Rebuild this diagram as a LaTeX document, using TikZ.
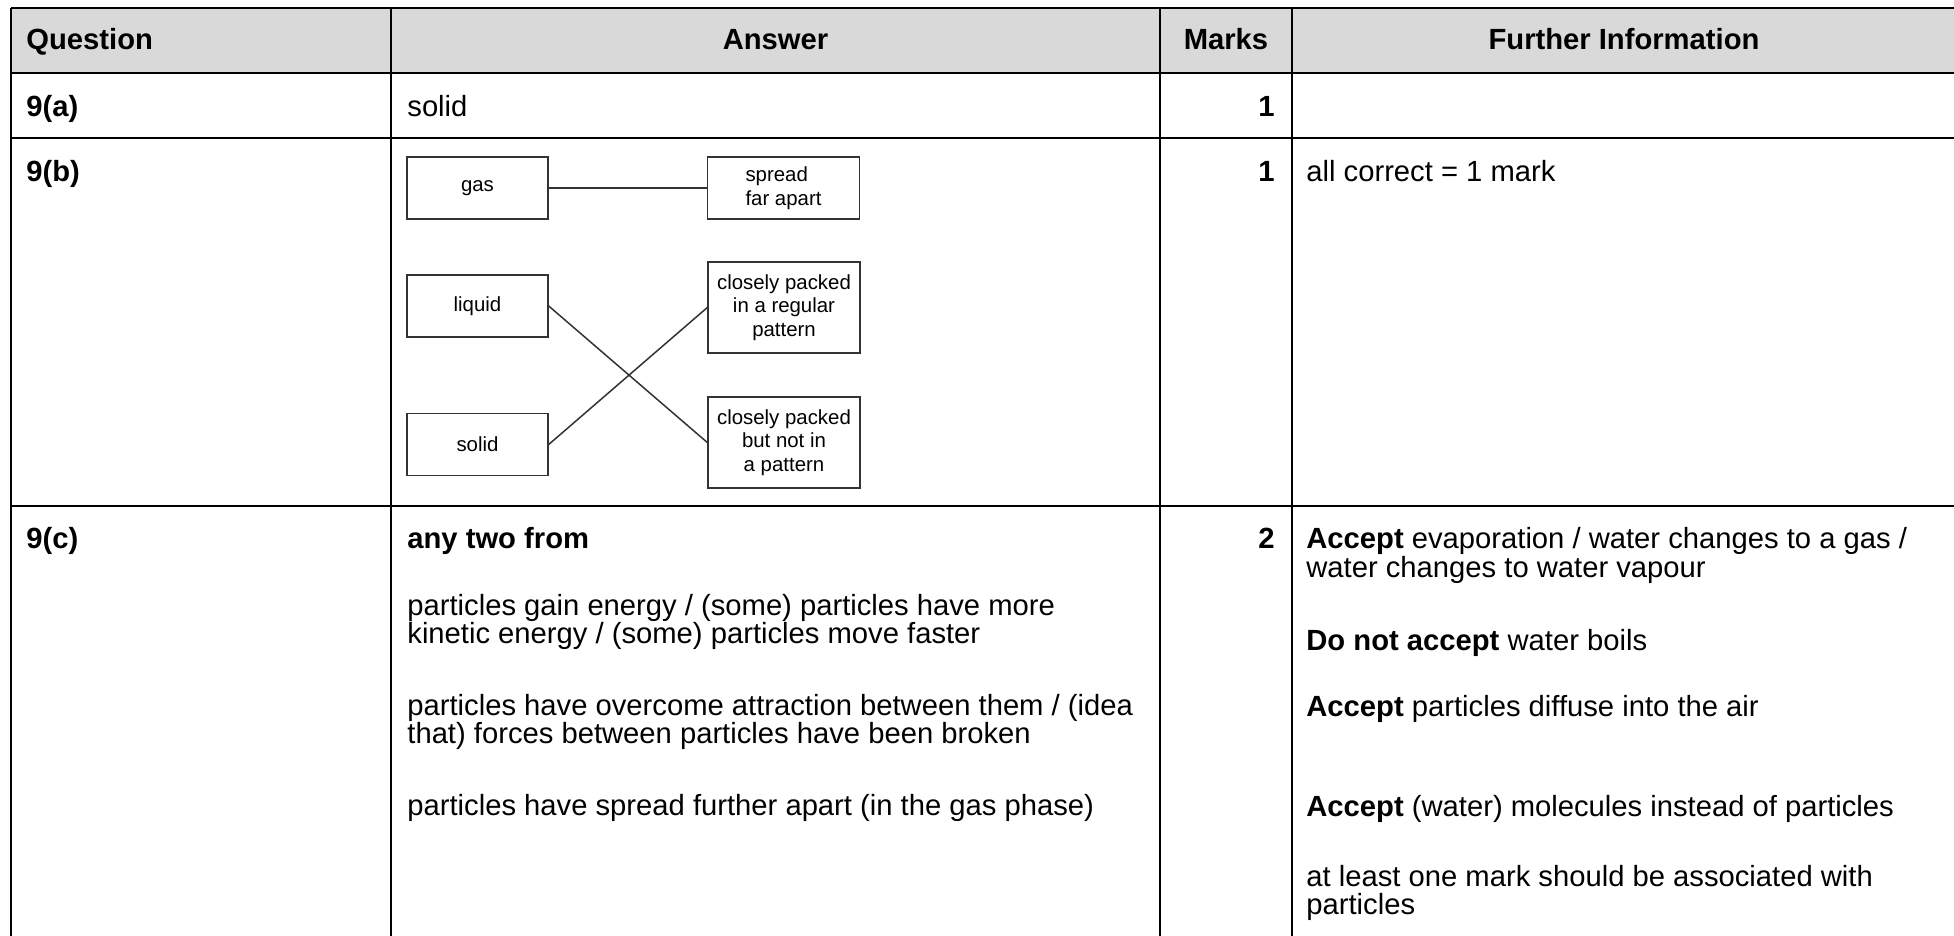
\documentclass[tikz,border=0pt]{standalone}
\usepackage{fontspec}
\setmainfont{Liberation Sans}
\usepackage{tikz}
\definecolor{headgray}{HTML}{D9D9D9}
\definecolor{boxline}{HTML}{333333}
\tikzset{
  rule/.style={line width=1pt,black},
  txt/.style={anchor=base west,inner sep=0pt,font=\fontsize{14.6}{15.5}\selectfont},
  headtxt/.style={inner sep=0pt,font=\fontsize{14.6}{15.5}\selectfont\bfseries},
  num/.style={anchor=base east,inner sep=0pt,font=\fontsize{14.6}{15.5}\selectfont\bfseries},
  matchbox/.style={draw=boxline,line width=0.7pt,inner sep=0pt,align=center,
    font=\fontsize{10.2}{11.8}\selectfont,minimum width=70.5pt,minimum height=31pt},
  link/.style={line width=0.75pt,boxline}
}

\begin{document}
\begin{tikzpicture}[x=0.5pt,y=-0.5pt]
  \useasboundingbox (0,0) rectangle (1954,936);
  % header band
  \fill[headgray] (11,8) rectangle (1960,73);
  % table rules
  \draw[rule] (11,8) -- (1960,8);
  \foreach \y in {73,138,506}
    \draw[rule] (11,\y) -- (1960,\y);
  \foreach \x in {11,391,1160,1292}
    \draw[rule] (\x,8) -- (\x,940);

  % header
  \node[headtxt,anchor=base west] (hq) at (26,50) {Question};
  \node[headtxt,anchor=base] (ha) at (775.5,50) {Answer};
  \node[headtxt,anchor=base] (hm) at (1226,50) {Marks};
  \node[headtxt,anchor=base] (hf) at (1624,50) {Further Information};

  % 9(a)
  \node[txt,font=\fontsize{14.6}{15.5}\selectfont\bfseries] (qa) at (26,117) {9(a)};
  \node[txt] (ansa) at (407,117) {solid};
  \node[num] (ma) at (1275,117) {1};

  % 9(b)
  \node[txt,font=\fontsize{14.6}{15.5}\selectfont\bfseries] (qb) at (26,182) {9(b)};
  \node[num] (mb) at (1275,182) {1};
  \node[txt] (fb) at (1306,182) {all correct = 1 mark};

  \node[matchbox] (gas) at (477.5,188) {gas};
  \node[matchbox] (liquid) at (477.5,306) {liquid};
  \node[matchbox] (solid) at (477.5,444.5) {solid};
  \node[matchbox,minimum width=76pt,align=left] (spread) at (783.5,188) {spread\\far apart};
  \node[matchbox,minimum width=76pt,minimum height=45.5pt] (regular) at (784,307.5) {closely packed\\in a regular\\pattern};
  \node[matchbox,minimum width=76pt,minimum height=45.5pt] (loose) at (784,442.5) {closely packed\\but not in\\a pattern};
  \draw[link] (gas.east) -- (spread.west);
  \draw[link] (liquid.east) -- (loose.west);
  \draw[link] (solid.east) -- (regular.west);

  % 9(c)
  \node[txt,font=\fontsize{14.6}{15.5}\selectfont\bfseries] (qc) at (26,548) {9(c)};
  \node[txt,font=\fontsize{14.6}{15.5}\selectfont\bfseries] (c0) at (407,548) {any two from};
  \node[txt] (c1) at (407,615) {particles gain energy / (some) particles have more};
  \node[txt] (c2) at (407,643) {kinetic energy / (some) particles move faster};
  \node[txt] (c3) at (407,715) {particles have overcome attraction between them / (idea};
  \node[txt] (c4) at (407,743) {that) forces between particles have been broken};
  \node[txt] (c5) at (407,815) {particles have spread further apart (in the gas phase)};
  \node[num] (mc) at (1275,548) {2};

  \node[txt] (f1) at (1306,548) {\textbf{Accept} evaporation / water changes to a gas /};
  \node[txt] (f2) at (1306,577) {water changes to water vapour};
  \node[txt] (f3) at (1306,650) {\textbf{Do not accept} water boils};
  \node[txt] (f4) at (1306,716) {\textbf{Accept} particles diffuse into the air};
  \node[txt] (f5) at (1306,816) {\textbf{Accept} (water) molecules instead of particles};
  \node[txt] (f6) at (1306,886) {at least one mark should be associated with};
  \node[txt] (f7) at (1306,914) {particles};
\end{tikzpicture}
\end{document}
